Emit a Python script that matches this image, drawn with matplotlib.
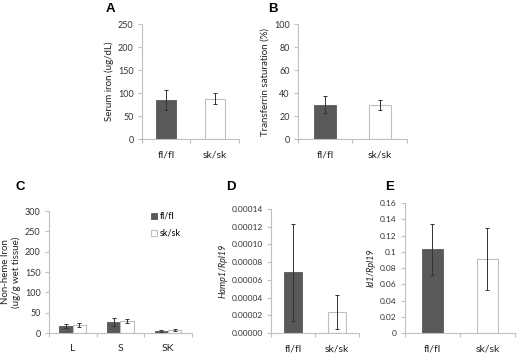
import numpy as np
import matplotlib
matplotlib.use("Agg")
import matplotlib.pyplot as plt

plt.rcParams['font.family'] = ['Lato', 'DejaVu Sans']

groups = ['fl/fl', 'sk/sk']
dark = '#595959'
edge_light = '#bfbfbf'
spine_col = '#bfbfbf'

# panel A - serum iron
serum_iron = [85, 88]
serum_iron_err = [22, 11]
# panel B - transferrin saturation
tf_sat = [30, 29.5]
tf_sat_err = [7.5, 4]
# panel C - non-heme iron
tissues = ['L', 'S', 'SK']
nhi_fl = [17, 27, 5]
nhi_fl_err = [5, 10, 2]
nhi_sk = [20, 30, 7]
nhi_sk_err = [5, 5, 2]
# panel D - Hamp1/Rpl19
hamp = [0.0000685, 0.0000235]
hamp_err = [0.0000545, 0.0000195]
# panel E - Id1/Rpl19
id1 = [0.103, 0.091]
id1_err = [0.0315, 0.038]

fig = plt.figure(figsize=(5.2, 3.54), dpi=100)


def style(ax, ncat):
    for s in ['top', 'right']:
        ax.spines[s].set_visible(False)
    for s in ['left', 'bottom']:
        ax.spines[s].set_color(spine_col)
        ax.spines[s].set_linewidth(0.8)
    ax.set_xlim(-0.5, ncat - 0.5)
    ax.set_xticks(np.arange(ncat))
    ax.set_xticks(np.arange(ncat + 1) - 0.5, minor=True)
    ax.tick_params(axis='x', which='major', length=0, pad=8, labelsize=7.5, colors='#222222')
    ax.tick_params(axis='x', which='minor', length=3, color=spine_col, width=0.8)
    ax.tick_params(axis='y', length=3, color=spine_col, width=0.8, labelsize=6.5,
                   colors='#333333', pad=3)
    ax.tick_params(axis='y', colors=spine_col)
    for t in ax.get_yticklabels():
        t.set_color('#333333')


def two_bars(ax, vals, errs, width):
    x = np.arange(2)
    ax.bar(x[0], vals[0], width, color=dark, edgecolor=dark, linewidth=0.6)
    ax.bar(x[1], vals[1], width, color='white', edgecolor=edge_light, linewidth=0.8)
    ax.errorbar(x, vals, yerr=errs, fmt='none', ecolor='#333333', elinewidth=0.7,
                capsize=1.5, capthick=0.7)
    ax.set_xticks(x)
    ax.set_xticklabels(groups)


# A
axA = fig.add_axes([0.273, 0.6073, 0.1865, 0.3249])
two_bars(axA, serum_iron, serum_iron_err, 0.42)
axA.set_ylim(0, 250)
axA.set_yticks(np.arange(0, 251, 50))
style(axA, 2)
axA.set_ylabel('Serum iron (ug/dL)', fontsize=7, color='#222222', labelpad=3)
fig.text(106 / 520, 1 - 9 / 354, 'A', fontsize=9.5, fontweight='bold',
         family='Liberation Sans', va='center', ha='left')

# B
axB = fig.add_axes([0.573, 0.6073, 0.2096, 0.3249])
two_bars(axB, tf_sat, tf_sat_err, 0.41)
axB.set_ylim(0, 100)
axB.set_yticks(np.arange(0, 101, 20))
style(axB, 2)
axB.set_ylabel('Transferrin saturation (%)', fontsize=7, color='#222222', labelpad=3)
fig.text(268 / 520, 1 - 9 / 354, 'B', fontsize=9.5, fontweight='bold',
         family='Liberation Sans', va='center', ha='left')

# C
axC = fig.add_axes([0.0942, 0.0593, 0.275, 0.3446])
xc = np.arange(3)
w = 0.28
axC.bar(xc - w / 2, nhi_fl, w, color=dark, edgecolor=dark, linewidth=0.6, label='fl/fl')
axC.bar(xc + w / 2, nhi_sk, w, color='white', edgecolor=edge_light, linewidth=0.8, label='sk/sk')
axC.errorbar(xc - w / 2, nhi_fl, yerr=nhi_fl_err, fmt='none', ecolor='#333333',
             elinewidth=0.7, capsize=1.2, capthick=0.7)
axC.errorbar(xc + w / 2, nhi_sk, yerr=nhi_sk_err, fmt='none', ecolor='#333333',
             elinewidth=0.7, capsize=1.2, capthick=0.7)
axC.set_ylim(0, 300)
axC.set_yticks(np.arange(0, 301, 50))
style(axC, 3)
axC.set_xticklabels(tissues)
axC.set_ylabel('Non-heme Iron\n(ug/g wet tissue)', fontsize=7, color='#222222',
               labelpad=3, linespacing=1.1)
leg = axC.legend(loc='upper right', bbox_to_anchor=(0.98, 1.06), frameon=False,
                 fontsize=6.5, handlelength=0.7, handleheight=0.7, handletextpad=0.3,
                 labelspacing=0.9)
fig.text(16 / 520, 1 - 187 / 354, 'C', fontsize=9.5, fontweight='bold',
         family='Liberation Sans', va='center', ha='left')

# D
axD = fig.add_axes([0.5212, 0.0593, 0.169, 0.3503])
two_bars(axD, hamp, hamp_err, 0.41)
axD.set_ylim(0, 0.00014)
axD.set_yticks(np.arange(0, 0.000141, 0.00002))
axD.set_yticklabels(['%.5f' % v for v in np.arange(0, 0.000141, 0.00002)])
style(axD, 2)
axD.tick_params(axis='y', labelsize=6)
axD.set_ylabel('Hamp1/Rpl19', fontsize=6.5, style='italic', color='#222222', labelpad=3)
fig.text(226 / 520, 1 - 187 / 354, 'D', fontsize=9.5, fontweight='bold',
         family='Liberation Sans', va='center', ha='left')

# E
axE = fig.add_axes([0.7788, 0.0593, 0.2115, 0.367])
two_bars(axE, id1, id1_err, 0.39)
axE.set_ylim(0, 0.16)
e_ticks = [0, 0.02, 0.04, 0.06, 0.08, 0.1, 0.12, 0.14, 0.16]
axE.set_yticks(e_ticks)
axE.set_yticklabels(['0', '0.02', '0.04', '0.06', '0.08', '0.1', '0.12', '0.14', '0.16'])
style(axE, 2)
axE.tick_params(axis='y', labelsize=6)
axE.set_ylabel('Id1/Rpl19', fontsize=6.5, style='italic', color='#222222', labelpad=3)
fig.text(385 / 520, 1 - 187 / 354, 'E', fontsize=9.5, fontweight='bold',
         family='Liberation Sans', va='center', ha='left')

fig.savefig('out.png', dpi=100)
